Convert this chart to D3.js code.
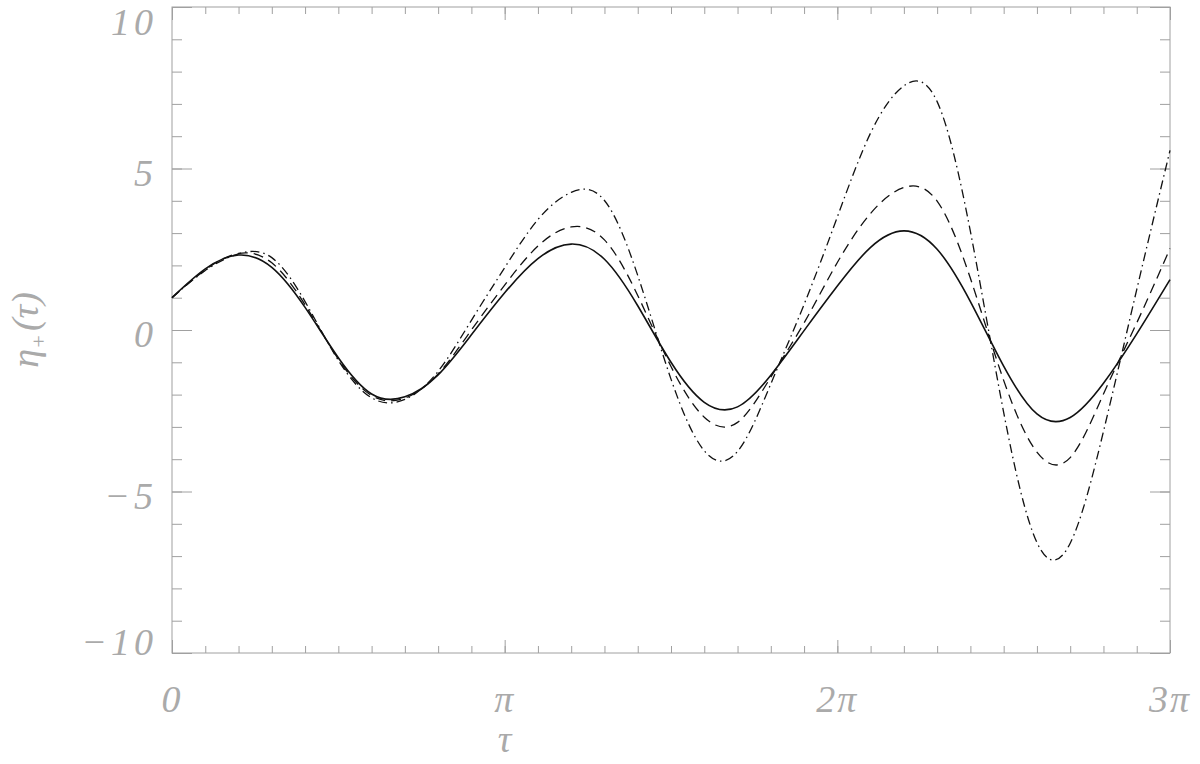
<!DOCTYPE html>
<html>
<head>
<meta charset="utf-8">
<script src="https://cdn.jsdelivr.net/npm/d3@7"></script>
<style>
body { margin: 0; background: #fff; }
svg { display: block; }
.lbl { font-family: "Liberation Serif", serif; font-style: italic; fill: #aaaaaa; }
</style>
</head>
<body>
<svg width="1200" height="764"></svg>
<script>
// tau in units of pi
let tau = [0, 0.1, 0.2, 0.3, 0.4, 0.5, 0.6, 0.7, 0.8, 0.9,
    1.0, 1.1, 1.2, 1.3, 1.4, 1.5, 1.6, 1.7, 1.8, 1.9,
    2.0, 2.1, 2.2, 2.3, 2.4, 2.5, 2.6, 2.7, 2.8, 2.9, 3.0]

let solid = [1.00, 1.89, 2.32, 1.94, 0.70, -0.86, -1.98, -2.07, -1.39, -0.15,
    1.15, 2.21, 2.66, 2.19, 0.75, -1.00, -2.24, -2.38, -1.40, -0.02,
    1.36, 2.56, 3.07, 2.50, 0.88, -1.12, -2.60, -2.71, -1.65, -0.12, 1.56]

let dashed = [1.00, 1.86, 2.37, 2.08, 0.78, -0.90, -2.03, -2.11, -1.36, 0.00,
    1.39, 2.60, 3.19, 2.79, 1.07, -1.13, -2.70, -2.86, -1.46, 0.22,
    2.09, 3.61, 4.41, 3.99, 1.60, -1.56, -3.78, -3.95, -1.98, 0.22, 2.52]

let dashDot = [1.00, 1.84, 2.36, 2.24, 0.88, -0.94, -2.10, -2.15, -1.28, 0.30,
    1.93, 3.42, 4.26, 4.01, 1.69, -1.52, -3.74, -3.76, -1.67, 0.79,
    3.50, 6.10, 7.56, 7.07, 3.05, -2.55, -6.58, -6.60, -3.14, 1.25, 5.56]

let yMajor = [-10, -5, 0, 5, 10]
let yLabels = ["\u221210", "\u22125", "0", "5", "10"]
let yMinor = [-10, -9, -8, -7, -6, -5, -4, -3, -2, -1, 0, 1, 2, 3, 4, 5, 6, 7, 8, 9, 10]
let xMajor = [0, 1, 2, 3]
let xLabels = ["0", "\u03c0", "2\u03c0", "3\u03c0"]

let svg = d3.select("svg")

let plotLeft = 172, plotRight = 1170, plotTop = 7, plotBottom = 653

let x = d3.scaleLinear().domain([0, 3]).range([plotLeft, plotRight])
let y = d3.scaleLinear().domain([-10, 10]).range([plotBottom, plotTop])

let axisColor = "#a0a0a0"

function styleAxis(g) {
    g.select(".domain").remove()
    g.selectAll("line").attr("stroke", axisColor).attr("stroke-width", 1)
    g.selectAll("text").remove()
}

// ticks, all pointing inward
svg.append("g").attr("transform", `translate(0,${plotBottom})`)
    .call(d3.axisBottom(x).tickValues(tau).tickSize(-7)).call(styleAxis)
svg.append("g").attr("transform", `translate(0,${plotBottom})`)
    .call(d3.axisBottom(x).tickValues(xMajor).tickSize(-13)).call(styleAxis)
svg.append("g").attr("transform", `translate(0,${plotTop})`)
    .call(d3.axisTop(x).tickValues(tau).tickSize(-7)).call(styleAxis)
svg.append("g").attr("transform", `translate(0,${plotTop})`)
    .call(d3.axisTop(x).tickValues(xMajor).tickSize(-13)).call(styleAxis)
svg.append("g").attr("transform", `translate(${plotLeft},0)`)
    .call(d3.axisLeft(y).tickValues(yMinor).tickSize(-10)).call(styleAxis)
svg.append("g").attr("transform", `translate(${plotLeft},0)`)
    .call(d3.axisLeft(y).tickValues(yMajor).tickSize(-20)).call(styleAxis)
svg.append("g").attr("transform", `translate(${plotRight},0)`)
    .call(d3.axisRight(y).tickValues(yMinor).tickSize(-10)).call(styleAxis)
svg.append("g").attr("transform", `translate(${plotRight},0)`)
    .call(d3.axisRight(y).tickValues(yMajor).tickSize(-20)).call(styleAxis)

svg.append("rect")
    .attr("x", plotLeft).attr("y", plotTop)
    .attr("width", plotRight - plotLeft).attr("height", plotBottom - plotTop)
    .attr("fill", "none")
    .attr("stroke", axisColor)

// tick labels
svg.selectAll(".ylab")
    .data(yMajor)
    .join("text")
    .attr("class", "lbl")
    .attr("x", plotLeft - 15)
    .attr("y", d => Math.min(Math.max(y(d) + 17, plotTop + 28), plotBottom + 2))
    .attr("text-anchor", "end")
    .style("font-size", "38px")
    .style("letter-spacing", "4px")
    .text((d, i) => yLabels[i])

svg.selectAll(".xlab")
    .data(xMajor)
    .join("text")
    .attr("class", "lbl")
    .attr("x", d => x(d))
    .attr("y", 712)
    .attr("text-anchor", "middle")
    .style("font-size", "38px")
    .style("letter-spacing", "2px")
    .text((d, i) => xLabels[i])

svg.append("text")
    .attr("class", "lbl")
    .attr("x", x(1))
    .attr("y", 752)
    .attr("text-anchor", "middle")
    .style("font-size", "38px")
    .text("\u03c4")

let ytitle = svg.append("text")
    .attr("class", "lbl")
    .attr("transform", `translate(38,${(plotTop + plotBottom) / 2}) rotate(-90)`)
    .attr("text-anchor", "middle")
    .style("font-size", "38px")
ytitle.append("tspan").text("\u03b7")
ytitle.append("tspan").attr("dy", 8).style("font-size", "22px").text("+")
ytitle.append("tspan").attr("dy", -8).attr("dx", 3).text("(\u03c4)")

// curves
let line = d3.line()
    .x((d, i) => x(tau[i]))
    .y(d => y(d))
    .curve(d3.curveNatural)

let series = [
    { values: dashDot, dash: "9,4,1.5,4", width: 1.3 },
    { values: dashed, dash: "10,6", width: 1.3 },
    { values: solid, dash: null, width: 1.6 }
]

svg.selectAll(".curve")
    .data(series)
    .join("path")
    .attr("class", "curve")
    .attr("d", d => line(d.values))
    .attr("fill", "none")
    .attr("stroke", "#111")
    .attr("stroke-width", d => d.width)
    .attr("stroke-dasharray", d => d.dash)
</script>
</body>
</html>
